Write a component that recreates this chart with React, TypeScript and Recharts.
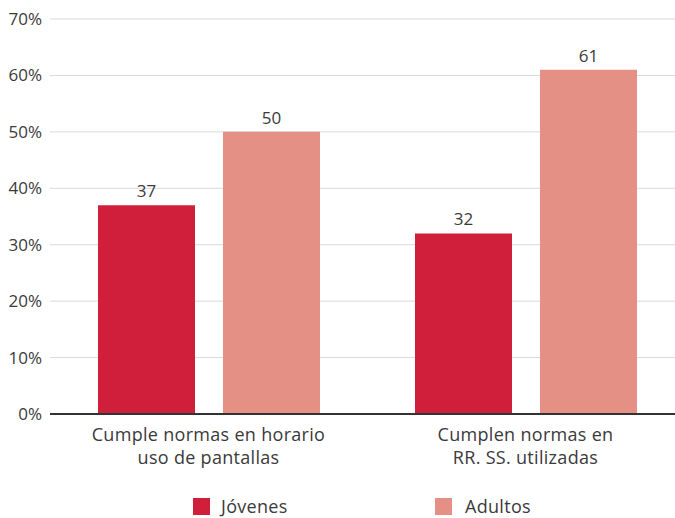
import React from 'react';
import { BarChart, Bar, XAxis, YAxis, CartesianGrid, Legend, LabelList } from 'recharts';

const categories = ['Cumple normas en horario|uso de pantallas', 'Cumplen normas en|RR. SS. utilizadas'];
const jovenes = [37, 32];
const adultos = [50, 61];
const yTicks = [0, 10, 20, 30, 40, 50, 60, 70];

const data = categories.map((c, i) => ({ name: c, jovenes: jovenes[i], adultos: adultos[i] }));

const FONT = '"Open Sans", sans-serif';
const TEXT = '#3a3a3a';

const CategoryTick = (props: any) => {
  const { x, y, payload } = props;
  const lines = String(payload.value).split('|');
  return (
    <text x={x} y={y + 19} textAnchor="middle" fill={TEXT} fontSize={18} letterSpacing={0.3} fontFamily={FONT}>
      {lines.map((l, i) => (
        <tspan key={i} x={x} dy={i === 0 ? 0 : 23}>{l}</tspan>
      ))}
    </text>
  );
};

const LegendBox = () => (
  <div style={{ display: 'flex', width: 675, height: 24, lineHeight: '24px', fontFamily: FONT, fontSize: 18, letterSpacing: 0.3, color: TEXT }}>
    <div style={{ marginLeft: 193, width: 242, display: 'flex', alignItems: 'center' }}>
      <span style={{ width: 17, height: 17, background: '#D01F3A', display: 'inline-block', marginRight: 11 }} />
      <span>Jóvenes</span>
    </div>
    <div style={{ display: 'flex', alignItems: 'center' }}>
      <span style={{ width: 17, height: 17, background: '#E59084', display: 'inline-block', marginRight: 13 }} />
      <span>Adultos</span>
    </div>
  </div>
);

export default function App() {
  return (
    <div style={{ position: 'fixed', left: 0, top: 0, width: 675, height: 518, overflow: 'hidden', background: '#fff' }}>
      <BarChart width={684} height={518} data={data} margin={{ top: 19, right: 0, left: 0, bottom: 50 }}
        barCategoryGap={48} barGap={28}>
        <CartesianGrid vertical={false} stroke="#d9d9d9" strokeWidth={1} />
        <YAxis width={50} domain={[0, 70]} ticks={yTicks} axisLine={false} tickLine={false}
          tickFormatter={(v: number) => `${v}%`}
          tick={{ fontSize: 17, fill: TEXT, fontFamily: FONT }} />
        <XAxis dataKey="name" height={30} axisLine={{ stroke: '#333', strokeWidth: 2 }} tickLine={false}
          tick={<CategoryTick />} interval={0} />
        <Legend content={<LegendBox />} verticalAlign="bottom" wrapperStyle={{ left: 0, bottom: 0, width: 675 }} />
        <Bar dataKey="jovenes" name="Jóvenes" fill="#D01F3A" isAnimationActive={false}>
          <LabelList dataKey="jovenes" position="top" offset={8} fill={TEXT} fontSize={17} fontFamily={FONT} />
        </Bar>
        <Bar dataKey="adultos" name="Adultos" fill="#E59084" isAnimationActive={false}>
          <LabelList dataKey="adultos" position="top" offset={8} fill={TEXT} fontSize={17} fontFamily={FONT} />
        </Bar>
      </BarChart>
    </div>
  );
}
